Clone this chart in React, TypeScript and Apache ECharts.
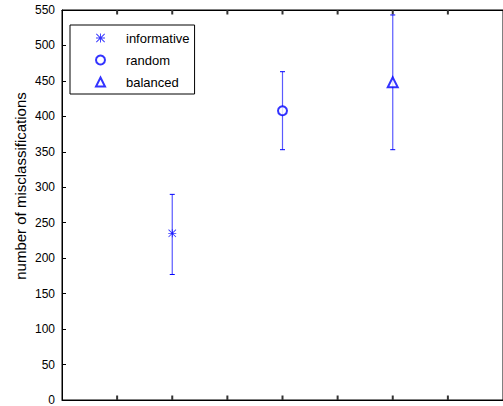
import React, { useEffect, useRef } from "react";
import * as echarts from "echarts";

const seriesNames = ["informative", "random", "balanced"];
const xPositions = [1, 2, 3];
const meanValues = [235, 408, 448];
const lowValues = [177, 353, 353];
const highValues = [290, 463, 543];
const xTickValues = [0.5, 1, 1.5, 2, 2.5, 3, 3.5];
const yTitle = "number of misclassifications";

const ASTERISK =
  "path://M0,4.5L10,4.5L10,5.5L0,5.5Z M4.5,0L5.5,0L5.5,10L4.5,10Z M0.7,0L10,9.3L9.3,10L0,0.7Z M9.3,0L10,0.7L0.7,10L0,9.3Z";
const symbols = [ASTERISK, "emptyCircle", "emptyTriangle"];
const symbolSizes = [8, 9, 10];

export default function App() {
  const ref = useRef<HTMLDivElement>(null);
  useEffect(() => {
    if (!ref.current) return;
    const chart = echarts.init(ref.current, undefined, { renderer: "svg" });
    const font = "'Liberation Sans', Arial, Helvetica, sans-serif";
    const errData = xPositions.map((x, i) => [x, lowValues[i], highValues[i]]);
    const scatterSeries = seriesNames.map((name, i) => ({
      name,
      type: "scatter",
      data: [[xPositions[i], meanValues[i]]],
      symbol: symbols[i],
      symbolSize: symbolSizes[i],
      itemStyle: { color: "#0000ff", borderWidth: i === 0 ? 0 : 1 },
      z: 5,
    }));
    const xAxisBase = {
      type: "value",
      min: 0,
      max: 4,
      interval: 0.5,
      axisLine: { show: true, onZero: false, lineStyle: { color: "#000", width: 1 } },
      axisTick: { show: false },
      axisLabel: { show: false },
      splitLine: { show: false },
    };
    chart.setOption({
      animation: false,
      backgroundColor: "#ffffff",
      grid: { left: 62, top: 10, right: -6, bottom: 6, show: true, borderColor: "#000", borderWidth: 1, backgroundColor: "transparent" },
      legend: {
        left: 70,
        top: 25,
        orient: "vertical",
        data: seriesNames.map((n, i) => ({ name: n, icon: symbols[i] })),
        itemWidth: 9,
        itemHeight: 9,
        itemGap: 8,
        padding: [6, 5, 5, 25],
        backgroundColor: "#ffffff",
        borderColor: "#000",
        borderWidth: 1,
        textStyle: { fontFamily: font, fontSize: 13, lineHeight: 14, color: "#000", padding: [0, 0, 0, 16] },
        selectedMode: false,
      },
      xAxis: [xAxisBase, { ...xAxisBase, position: "top" }],
      yAxis: {
        type: "value",
        min: 0,
        max: 550,
        interval: 50,
        axisLine: { show: true, onZero: false, lineStyle: { color: "#000", width: 1 } },
        axisTick: { show: true, inside: true, length: 4, lineStyle: { color: "#000" } },
        axisLabel: { fontFamily: font, fontSize: 12, color: "#000", margin: 7 },
        splitLine: { show: false },
      },
      graphic: [
        {
          type: "text",
          x: 20,
          y: 186,
          rotation: Math.PI / 2,
          style: {
            text: yTitle,
            fontFamily: font,
            fontSize: 15,
            fill: "#000",
            align: "center",
            verticalAlign: "middle",
          },
        },
      ],
      series: [
        {
          type: "custom",
          name: "xticks",
          data: xTickValues.map((v) => [v, 0]),
          z: 2,
          silent: true,
          clip: false,
          renderItem: (params: any, api: any) => {
            const v = api.value(0);
            const b = api.coord([v, 0]);
            const t = api.coord([v, 550]);
            const style = { stroke: "#333", lineWidth: 2 };
            return {
              type: "group",
              children: [
                { type: "line", shape: { x1: b[0], y1: b[1], x2: b[0], y2: b[1] - 4.5 }, style },
                { type: "line", shape: { x1: t[0], y1: t[1], x2: t[0], y2: t[1] + 4.5 }, style },
              ],
            };
          },
        },
        {
          type: "custom",
          name: "errorbars",
          data: errData,
          z: 3,
          renderItem: (params: any, api: any) => {
            const x = api.value(0);
            const lo = api.coord([x, api.value(1)]);
            const hi = api.coord([x, api.value(2)]);
            const hw = 2.5;
            const style = { stroke: "#5a5aff", lineWidth: 1.2 };
            return {
              type: "group",
              children: [
                { type: "line", shape: { x1: lo[0], y1: lo[1], x2: hi[0], y2: hi[1] }, style },
                { type: "line", shape: { x1: lo[0] - hw, y1: lo[1], x2: lo[0] + hw, y2: lo[1] }, style: { stroke: "#0000ff", lineWidth: 1 } },
                { type: "line", shape: { x1: hi[0] - hw, y1: hi[1], x2: hi[0] + hw, y2: hi[1] }, style: { stroke: "#0000ff", lineWidth: 1 } },
              ],
            };
          },
        },
        ...scatterSeries,
      ],
    });
    return () => chart.dispose();
  }, []);
  return <div ref={ref} style={{ width: 503, height: 406, position: "absolute", left: 0, top: 0 }} />;
}
